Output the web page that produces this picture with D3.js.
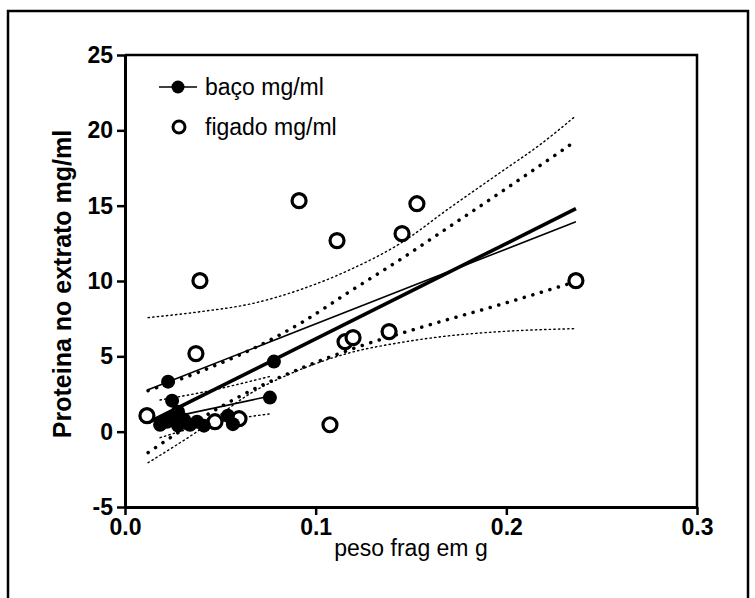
<!DOCTYPE html>
<html>
<head>
<meta charset="utf-8">
<script src="https://cdn.jsdelivr.net/npm/d3@7"></script>
<style>
    body { margin: 0; background: #fff; }
    text { font-family: Arial, 'Liberation Sans', sans-serif; }
</style>
</head>
<body>
<div id="chart"></div>
<script>
'use strict';

// baço points (peso, proteina)
var bacoX = [0.0226, 0.0247, 0.0781, 0.0760, 0.0566, 0.0540, 0.0184, 0.0220, 0.0247, 0.0278, 0.0310, 0.0341, 0.0378, 0.0414, 0.0278];
var bacoY = [3.32, 2.06, 4.65, 2.26, 0.50, 1.06, 0.46, 0.66, 0.93, 0.40, 0.80, 0.46, 0.66, 0.40, 1.33];

// figado points
var figadoX = [0.0115, 0.0393, 0.0372, 0.0913, 0.1112, 0.1453, 0.1531, 0.2365, 0.1385, 0.1154, 0.1196, 0.1075, 0.0472, 0.0598];
var figadoY = [1.06, 10.02, 5.18, 15.33, 12.68, 13.14, 15.13, 10.02, 6.64, 5.97, 6.24, 0.46, 0.66, 0.86];

// fit lines
var figadoFitX = [0.0121, 0.2365];
var figadoFitY = [2.79, 13.94];
var totalFitX = [0.0121, 0.2365];
var totalFitY = [0.60, 14.80];
var bacoFitX = [0.0184, 0.0771];
var bacoFitY = [0.80, 2.39];

// 95% bands (thin dotted = figado)
var figadoBandX = [0.0121, 0.0393, 0.0666, 0.0918, 0.1180, 0.1442, 0.1705, 0.1967, 0.2177, 0.2365];
var figadoUpper = [7.57, 7.96, 8.50, 9.42, 10.75, 12.48, 14.87, 17.19, 19.05, 20.97];
var figadoLowerX = [0.0121, 0.0393, 0.0656, 0.0918, 0.1180, 0.1442, 0.1705, 0.1967, 0.2365];
var figadoLower = [-2.06, 0.13, 2.52, 4.11, 5.24, 5.91, 6.37, 6.64, 6.84];

// thick dotted bands
var totalUpperX = [0.0121, 0.0393, 0.0692, 0.0934, 0.1170, 0.1490, 0.1584, 0.1967, 0.2365];
var totalUpper = [2.72, 3.98, 5.64, 7.30, 9.23, 11.81, 12.61, 15.86, 19.30];
var totalLowerX = [0.0121, 0.0262, 0.0692, 0.0944, 0.1212, 0.1584, 0.1967, 0.2365];
var totalLower = [-1.39, -0.20, 2.92, 4.31, 5.58, 7.04, 8.43, 9.96];

// short baço bands
var bacoBandX = [0.0184, 0.0400, 0.0771];
var bacoUpper = [2.10, 2.60, 3.70];
var bacoLower = [-0.40, 0.40, 1.20];

var xTicks = [0, 0.1, 0.2, 0.3];
var yTicks = [-5, 0, 5, 10, 15, 20, 25];

var W = 755, H = 598;
var plot = { left: 125, right: 697, top: 55, bottom: 507 };
var FONT = "Arial, 'Liberation Sans', sans-serif";

var svg = d3.select('#chart').append('svg')
    .attr('width', W)
    .attr('height', H);

//outer frame
svg.append('rect')
    .attr('x', 8).attr('y', 11)
    .attr('width', 740).attr('height', 640)
    .attr('fill', 'none')
    .attr('stroke', '#000')
    .attr('stroke-width', 2.5);

var x = d3.scaleLinear().domain([0, 0.3]).range([plot.left, plot.right]);
var y = d3.scaleLinear().domain([-5, 25]).range([plot.bottom, plot.top]);

function zip(xs, ys) {
    return xs.map(function(v, i) { return [v, ys[i]]; });
}

var smooth = d3.line()
    .x(function(d) { return x(d[0]); })
    .y(function(d) { return y(d[1]); })
    .curve(d3.curveMonotoneX);

var straight = d3.line()
    .x(function(d) { return x(d[0]); })
    .y(function(d) { return y(d[1]); });

// plot box (top and right edges)
svg.append('path')
    .attr('d', 'M' + plot.left + ',' + plot.top + 'H' + plot.right + 'V' + plot.bottom)
    .attr('fill', 'none')
    .attr('stroke', '#000')
    .attr('stroke-width', 2.5);

// axes
var xAxis = svg.append('g')
    .attr('transform', 'translate(0,' + plot.bottom + ')')
    .call(d3.axisBottom(x).tickValues(xTicks).tickFormat(d3.format('.1f')).tickSizeInner(8).tickSizeOuter(0).tickPadding(4));
var yAxis = svg.append('g')
    .attr('transform', 'translate(' + plot.left + ',0)')
    .call(d3.axisLeft(y).tickValues(yTicks).tickFormat(function(d) { return String(d); }).tickSizeInner(8).tickSizeOuter(0).tickPadding(4));

[xAxis, yAxis].forEach(function(g) {
    g.select('.domain').attr('stroke-width', 3);
    g.selectAll('.tick line').attr('stroke-width', 2.5);
    g.selectAll('.tick text')
        .attr('font-size', 23)
        .attr('font-weight', 'bold')
        .attr('font-family', FONT)
        .attr('fill', '#000');
});

// bands
var bands = [
    { pts: zip(figadoBandX, figadoUpper), w: 1.4, dash: '1.4 3.2' },
    { pts: zip(figadoLowerX, figadoLower), w: 1.4, dash: '1.4 3.2' },
    { pts: zip(totalUpperX, totalUpper), w: 3.5, dash: '0.1 8.8' },
    { pts: zip(totalLowerX, totalLower), w: 3.5, dash: '0.1 8.8' },
    { pts: zip(bacoBandX, bacoUpper), w: 1.4, dash: '1.4 3.2' },
    { pts: zip(bacoBandX, bacoLower), w: 1.4, dash: '1.4 3.2' }
];
bands.forEach(function(b) {
    svg.append('path')
        .attr('d', smooth(b.pts))
        .attr('fill', 'none')
        .attr('stroke', '#000')
        .attr('stroke-width', b.w)
        .attr('stroke-linecap', 'round')
        .attr('stroke-dasharray', b.dash);
});

// fit lines
var fits = [
    { pts: zip(figadoFitX, figadoFitY), w: 1.6 },
    { pts: zip(totalFitX, totalFitY), w: 3.6 },
    { pts: zip(bacoFitX, bacoFitY), w: 1.6 }
];
fits.forEach(function(f) {
    svg.append('path')
        .attr('d', straight(f.pts))
        .attr('fill', 'none')
        .attr('stroke', '#000')
        .attr('stroke-width', f.w);
});

// figado (open circles)
svg.append('g')
    .selectAll('circle')
    .data(zip(figadoX, figadoY))
    .enter().append('circle')
    .attr('cx', function(d) { return x(d[0]); })
    .attr('cy', function(d) { return y(d[1]); })
    .attr('r', 7)
    .attr('fill', '#fff')
    .attr('stroke', '#000')
    .attr('stroke-width', 3.2);

// baço (filled)
svg.append('g')
    .selectAll('circle')
    .data(zip(bacoX, bacoY))
    .enter().append('circle')
    .attr('cx', function(d) { return x(d[0]); })
    .attr('cy', function(d) { return y(d[1]); })
    .attr('r', 7)
    .attr('fill', '#000');

// legend
svg.append('line')
    .attr('x1', 159).attr('x2', 197)
    .attr('y1', 87).attr('y2', 87)
    .attr('stroke', '#000')
    .attr('stroke-width', 1.6);
svg.append('circle')
    .attr('cx', 178).attr('cy', 87).attr('r', 6.5)
    .attr('fill', '#000');
svg.append('circle')
    .attr('cx', 179).attr('cy', 127).attr('r', 6)
    .attr('fill', '#fff')
    .attr('stroke', '#000')
    .attr('stroke-width', 3);
svg.append('text')
    .attr('x', 205).attr('y', 95)
    .attr('font-size', 23)
    .text('baço mg/ml');
svg.append('text')
    .attr('x', 205).attr('y', 135)
    .attr('font-size', 23)
    .text('figado mg/ml');

// axis titles
svg.append('text')
    .attr('x', (plot.left + plot.right) / 2).attr('y', 556)
    .attr('text-anchor', 'middle')
    .attr('font-size', 23)
    .text('peso frag em g');
svg.append('text')
    .attr('transform', 'translate(71,284) rotate(-90)')
    .attr('text-anchor', 'middle')
    .attr('font-size', 25)
    .attr('font-weight', 'bold')
    .text('Proteina no extrato mg/ml');
</script>
</body>
</html>
